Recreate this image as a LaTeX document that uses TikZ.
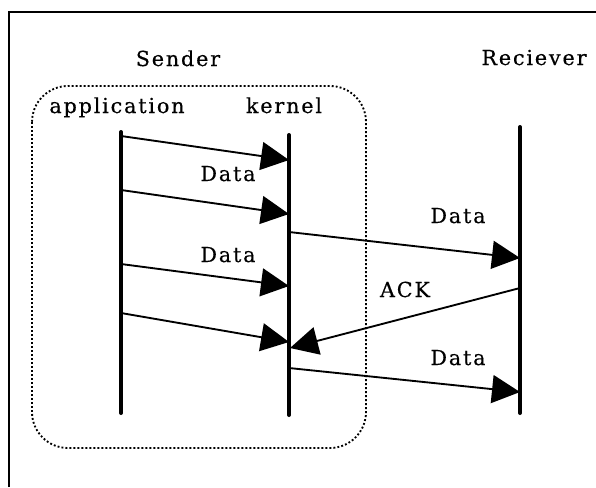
\documentclass[tikz,border=0pt]{standalone}
\usepackage{fontspec}
\setmainfont{DejaVu Serif}[LetterSpace=9, FakeBold=0.4]
\usepackage{tikz}
\usetikzlibrary{arrows.meta}

\begin{document}
\begin{tikzpicture}[x=0.75pt,y=-0.75pt]
    \tikzstyle{lbl} = [inner sep=0pt, anchor=base, font=\fontsize{15.5}{18}\selectfont]
\tikzstyle{lifeline} = [line width=3pt, line cap=round]
\tikzstyle{arrow} = [line width=1.4pt, -{Triangle[length=21pt,width=21pt]}]
\tikzstyle{group} = [line width=1.4pt, dash pattern=on 1.4pt off 1.6pt, rounded corners=27pt]
    \useasboundingbox (0,0) rectangle (596,487);
\draw[line width=1.2pt] (9,487) -- (9,12) -- (596,12);

\node (sender) [lbl] at (178,66) {Sender};
\node (receiver) [lbl] at (534,65) {Reciever};
\node (app) [lbl] at (117,113) {application};
\node (kernel) [lbl] at (284,113) {kernel};

\draw[group] (32,86) rectangle (366,448);

\coordinate (apptop) at (121,132);
\coordinate (appbot) at (121,413);
\coordinate (kertop) at (289,135);
\coordinate (kerbot) at (289,415);
\coordinate (rcvtop) at (520,127);
\coordinate (rcvbot) at (520,413);

\draw[lifeline] (apptop) -- (appbot);
\draw[lifeline] (kertop) -- (kerbot);
\draw[lifeline] (rcvtop) -- (rcvbot);

\coordinate (a1) at (121,136);
\coordinate (a2) at (121,190);
\coordinate (a3) at (121,264);
\coordinate (a4) at (121,313);
\coordinate (k1) at (289,160);
\coordinate (k2) at (289,214);
\coordinate (k3) at (289,286);
\coordinate (k4) at (289,342);
\coordinate (k5) at (289,232);
\coordinate (k6) at (290,348);
\coordinate (k7) at (289,368);
\coordinate (r1) at (520,258);
\coordinate (r2) at (520,288);
\coordinate (r3) at (520,392);

\draw[arrow] (a1) -- (k1);
\draw[arrow] (a2) -- (k2);
\draw[arrow] (a3) -- (k3);
\draw[arrow] (a4) -- (k4);

\draw[arrow] (k5) -- (r1);
\draw[arrow] (r2) -- (k6);
\draw[arrow] (k7) -- (r3);

\node (data1) [lbl] at (228,181) {Data};
\node (data2) [lbl] at (228,262) {Data};
\node (data3) [lbl] at (458,223) {Data};
\node (ack) [lbl] at (405,297) {ACK};
\node (data4) [lbl] at (458,365) {Data};
  \end{tikzpicture}
\end{document}
